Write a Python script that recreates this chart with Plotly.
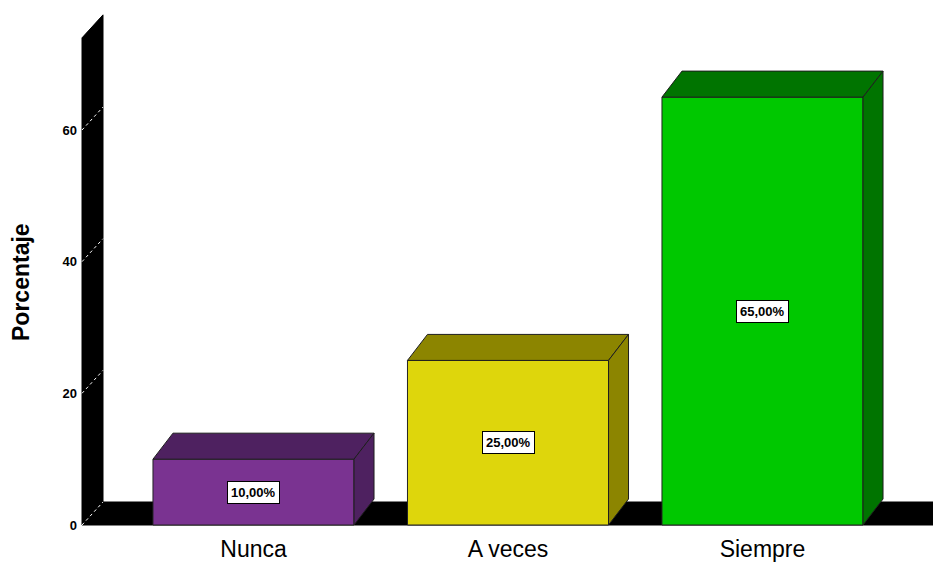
import plotly.graph_objects as go

categorias = ['Nunca', 'A veces', 'Siempre']
porcentajes = [10, 25, 65]
etiquetas = ['10,00%', '25,00%', '65,00%']
y_ticks = [0, 20, 40, 60]

colores_frente = ['#7a3391', '#ded60c', '#00c800']
colores_sombra = ['#4e2160', '#8c8500', '#007400']

# el body de la pagina tiene 8px de margen, la figura queda desplazada
OFF = 8
W, H = 941 - OFF, 563 - OFF

# escala de los ejes en px por unidad, para pasar la profundidad 3D a unidades de datos
PX_X = 254.5
PX_Y = 6.583
X0_PX = 253.5 - OFF   # centro de la primera barra
Y0_PX = 525 - OFF     # valor 0
ANCHO = 0.79
prof_x = 20 / PX_X
prof_y = 26 / PX_Y

# pared y suelo (fondo del grafico)
pared_x = (82 - OFF - X0_PX) / PX_X
suelo_fin = (933 - OFF - X0_PX) / PX_X
pared_top = 74
fondo_x = 21 / PX_X
fondo_y = 23 / PX_Y

fuente = 'Liberation Sans, Arial, sans-serif'
ML, MB = 58, 30

fig = go.Figure()

fig.add_trace(go.Bar(
    x=list(range(len(categorias))),
    y=porcentajes,
    width=ANCHO,
    marker=dict(color=colores_frente, line=dict(color='#222222', width=1)),
    hoverinfo='skip',
    showlegend=False,
))

# caras superior y lateral de cada barra
for i, v in enumerate(porcentajes):
    x0 = i - ANCHO / 2
    x1 = i + ANCHO / 2
    fig.add_trace(go.Scatter(
        x=[x0, x1, x1 + prof_x, x0 + prof_x, x0],
        y=[v, v, v + prof_y, v + prof_y, v],
        fill='toself', fillcolor=colores_sombra[i], mode='lines',
        line=dict(color='#1e1e1e', width=1),
        hoverinfo='skip', showlegend=False,
    ))
    fig.add_trace(go.Scatter(
        x=[x1, x1, x1 + prof_x, x1 + prof_x, x1],
        y=[0, v, v + prof_y, prof_y, 0],
        fill='toself', fillcolor=colores_sombra[i], mode='lines',
        line=dict(color='#1e1e1e', width=1),
        hoverinfo='skip', showlegend=False,
    ))

formas = [
    dict(type='path', xref='x', yref='y', layer='below',
         path=f'M {pared_x},0 L {pared_x},{pared_top} L {pared_x + fondo_x},{pared_top + fondo_y} '
              f'L {pared_x + fondo_x},{fondo_y} Z',
         fillcolor='black', line=dict(color='black', width=1)),
    dict(type='path', xref='x', yref='y', layer='below',
         path=f'M {pared_x},0 L {suelo_fin},0 L {suelo_fin + fondo_x},{fondo_y} '
              f'L {pared_x + fondo_x},{fondo_y} Z',
         fillcolor='black', line=dict(color='black', width=1)),
]
for t in y_ticks:
    formas.append(dict(type='line', xref='x', yref='y', layer='below',
                       x0=pared_x, y0=t, x1=pared_x + fondo_x, y1=t + fondo_y,
                       line=dict(color='white', width=1, dash='dot')))

for i, v in enumerate(porcentajes):
    fig.add_annotation(
        x=i, y=v / 2, text=etiquetas[i], showarrow=False,
        font=dict(family=fuente, size=13, color='black', weight='bold'),
        bgcolor='white', bordercolor='black', borderwidth=1, borderpad=3,
    )

# titulo del eje y
fig.add_annotation(
    text='Porcentaje', textangle=-90, showarrow=False,
    xref='paper', yref='paper',
    x=(21 - OFF - ML) / (W - ML), y=(H - MB - (282 - OFF)) / (H - MB),
    xanchor='center', yanchor='middle',
    font=dict(family=fuente, size=23, color='black', weight='bold'),
)

fig.update_layout(
    width=W, height=H,
    margin=dict(l=ML, r=0, t=0, b=MB),
    plot_bgcolor='white',
    paper_bgcolor='white',
    shapes=formas,
    font=dict(family=fuente, color='black'),
    xaxis=dict(
        range=[(ML - X0_PX) / PX_X, (W - X0_PX) / PX_X],
        tickvals=list(range(len(categorias))), ticktext=categorias,
        tickfont=dict(size=23), showgrid=False, zeroline=False,
        showline=False, ticks='',
    ),
    yaxis=dict(
        range=[-(H - MB - Y0_PX) / PX_Y, Y0_PX / PX_Y],
        tickvals=y_ticks, tickfont=dict(size=13, weight='bold'),
        showgrid=False, zeroline=False, showline=False, ticks='',
        ticklabelstandoff=-12,
    ),
)

fig.write_html("out.html")
